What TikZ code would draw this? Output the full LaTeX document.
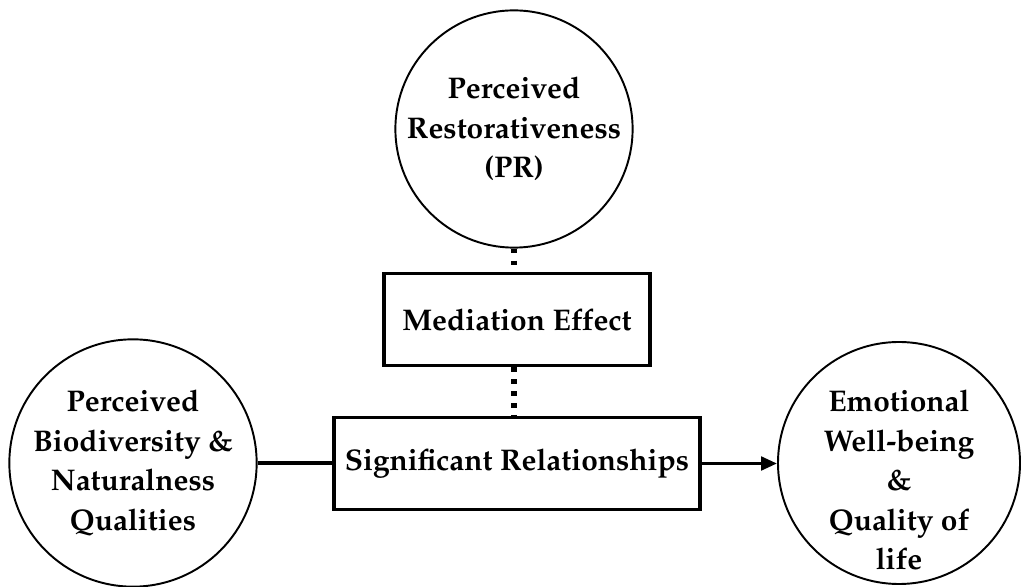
\documentclass[tikz,border=0pt]{standalone}
\usepackage[T1]{fontenc}
\renewcommand{\rmdefault}{ppl}
\usepackage{tikz}
\usetikzlibrary{arrows.meta}

\begin{document}
\begin{tikzpicture}[
    circ/.style={draw, circle, line width=1.1pt, minimum size=#1, inner sep=0pt},
    boxed/.style={draw, rectangle, line width=1.9pt, minimum width=#1, minimum height=1.84cm, inner sep=0pt},
    lbl/.style={align=center, font=\fontsize{17}{22.5}\selectfont\bfseries},
    dots/.style={line width=3.3pt, dash pattern=on 2.8pt off 4pt},
    link/.style={line width=2pt}
  ]
  \useasboundingbox (0,0) rectangle (20.44,11.72);
  \node[circ=4.6cm, lbl] (pr) at (10.28,9.14) {Perceived\\Restorativeness\\(PR)};
  \node[boxed=5.32cm, lbl] (med) at (10.34,5.33) {Mediation Effect};
  \node[boxed=7.32cm, lbl] (sig) at (10.34,2.45) {Significant Relationships};
  \node[circ=4.84cm, lbl] (pbn) at (2.66,2.46) {Perceived\\Biodiversity \&\\Naturalness\\Qualities};
  \node[circ=4.84cm, label={[lbl, yshift=-0.34cm]center:{Emotional\\Well-being\\\&\\Quality of\\life}}] (ewb) at (17.98,2.46) {};
  \draw[dots] (pr.south) -- (med.north -| pr.south);
  \draw[dots] (med.south -| pr.south) -- (sig.north -| pr.south);
  \draw[link] (pbn.east) -- (pbn.east -| sig.west);
  \draw[link, -{Triangle[length=0.32cm, width=0.27cm]}] (sig.east) -- (sig.east -| ewb.west);
\end{tikzpicture}
\end{document}
